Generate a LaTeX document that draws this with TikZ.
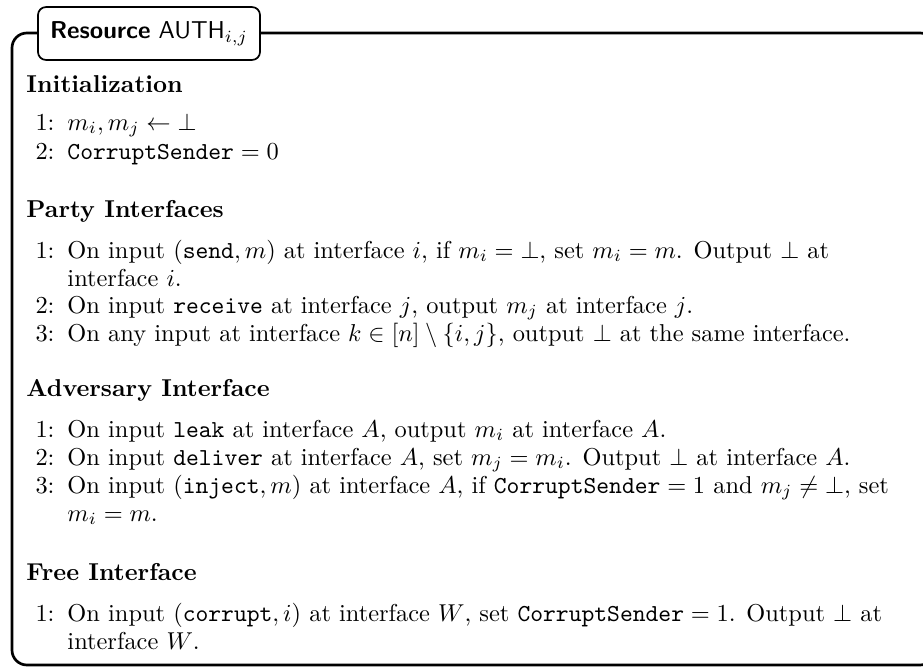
\documentclass[tikz,border=0pt]{standalone}
\tikzset{
  frameline/.style={line width=1.1pt, rounded corners=6.1pt},
  titlebox/.style={draw, fill=white, line width=0.7pt, rounded corners=3.3pt, minimum width=91pt, minimum height=21.7pt, inner sep=0pt, font=\sffamily},
  heading/.style={anchor=base west, inner sep=0pt, font=\bfseries},
  num/.style={anchor=base east, inner sep=0pt},
  txt/.style={anchor=base west, inner sep=0pt}
}
\begin{document}
\begin{tikzpicture}[x=0.4098pt,y=-0.4098pt]
\useasboundingbox (0,0) rectangle (923,667);
\clip (0,0) rectangle (923,667);
\coordinate (fbl) at (12,665);
\coordinate (ftl) at (12,33);
\coordinate (ftr) at (935,33);
\coordinate (fbr) at (935,665);
\draw[frameline] (fbl) -- (ftl) -- (ftr) -- (fbr) -- cycle;
\node[titlebox] (title) at (149,33.5) {\textbf{Resource} $\mathsf{AUTH}_{i,j}$};

% Initialization
\node[heading] (hinit) at (26,92) {Initialization};
\node[num] (n11) at (55,130) {1:};
\node[txt] (t11) at (67,130) {$m_i, m_j \gets \bot$};
\node[num] (n12) at (55,159) {2:};
\node[txt] (t12) at (67,159) {$\mathtt{CorruptSender} = 0$};

% Party Interfaces
\node[heading] (hparty) at (26,217) {Party Interfaces};
\node[num] (n21) at (55,258) {1:};
\node[txt] (t21) at (67,258) {On input $(\mathtt{send}, m)$ at interface $i$, if $m_i = \bot$, set $m_i = m$. Output $\bot$ at};
\node[txt] (t21b) at (67,286) {interface $i$.};
\node[num] (n22) at (55,313) {2:};
\node[txt] (t22) at (67,313) {On input \texttt{receive} at interface $j$, output $m_j$ at interface $j$.};
\node[num] (n23) at (55,341) {3:};
\node[txt] (t23) at (67,341) {On any input at interface $k \in [n] \setminus \{i, j\}$, output $\bot$ at the same interface.};

% Adversary Interface
\node[heading] (hadv) at (26,396) {Adversary Interface};
\node[num] (n31) at (55,437) {1:};
\node[txt] (t31) at (67,437) {On input \texttt{leak} at interface $A$, output $m_i$ at interface $A$.};
\node[num] (n32) at (55,465) {2:};
\node[txt] (t32) at (67,465) {On input \texttt{deliver} at interface $A$, set $m_j = m_i$. Output $\bot$ at interface $A$.};
\node[num] (n33) at (55,493) {3:};
\node[txt] (t33) at (67,493) {On input $(\mathtt{inject}, m)$ at interface $A$, if $\mathtt{CorruptSender} = 1$ and $m_j \neq \bot$, set};
\node[txt] (t33b) at (67,521) {$m_i = m$.};

% Free Interface
\node[heading] (hfree) at (26,580) {Free Interface};
\node[num] (n41) at (55,621) {1:};
\node[txt] (t41) at (67,621) {On input $(\mathtt{corrupt}, i)$ at interface $W$, set $\mathtt{CorruptSender} = 1$. Output $\bot$ at};
\node[txt] (t41b) at (67,649) {interface $W$.};
\end{tikzpicture}
\end{document}
